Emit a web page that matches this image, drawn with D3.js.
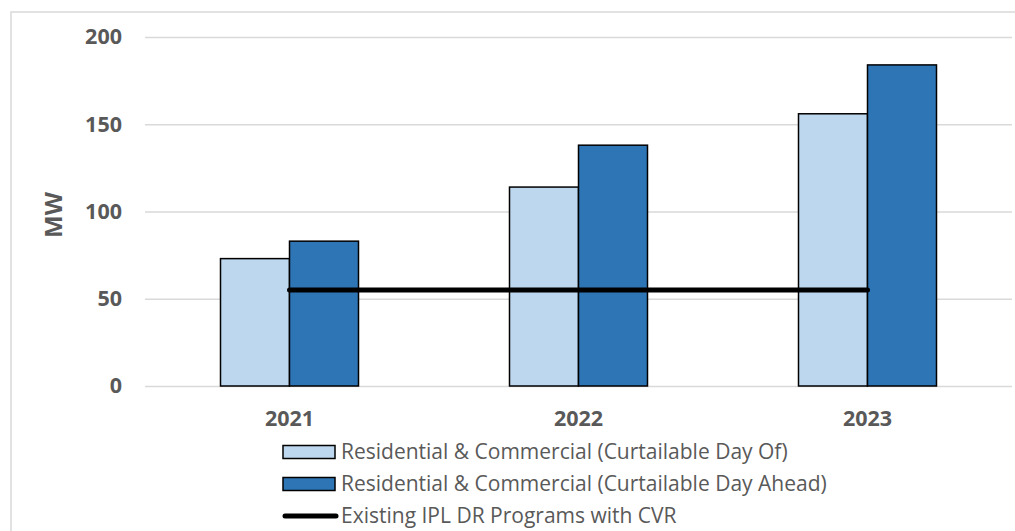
<!DOCTYPE html>
<html><head><meta charset="utf-8">
<script src="https://cdn.jsdelivr.net/npm/d3@7"></script>
<style>body{margin:0;background:#fff}svg{display:block}</style>
</head><body>
<svg id="c" width="1015" height="531"></svg>
<script>
const years = ["2021","2022","2023"];
const dayOf = [73,114,156];
const dayAhead = [83,138,184];
const existing = [55,55,55];
const yTicks = [0,50,100,150,200];
const seriesNames = ["Residential & Commercial (Curtailable Day Of)","Residential & Commercial (Curtailable Day Ahead)","Existing IPL DR Programs with CVR"];
const colors = ["#BDD7EE","#2E75B6"];

const svg = d3.select("#c");
svg.append("rect").attr("x",11).attr("y",12).attr("width",1100).attr("height",600)
  .attr("fill","#fff").attr("stroke","#d9d9d9").attr("stroke-width",1.5);

const x = d3.scaleBand().domain(years).range([145,1012]);
const y = d3.scaleLinear().domain([0,200]).range([386,37]);
const gw = x.bandwidth()*0.4775;
const x1 = d3.scaleBand().domain([0,1]).range([(x.bandwidth()-gw)/2,(x.bandwidth()+gw)/2]);

const grid = svg.append("g").attr("transform","translate(145,0)")
  .call(d3.axisLeft(y).tickValues(yTicks).tickSize(-867).tickPadding(23).tickFormat(d3.format("d")));
grid.select(".domain").remove();
grid.selectAll(".tick line").attr("stroke","#d9d9d9").attr("stroke-width",1.5);
grid.selectAll(".tick text").attr("x",-23).attr("fill","#595959")
  .attr("font-family","'Open Sans',sans-serif").attr("font-weight","bold").attr("font-size",21.5);

const data = years.map((yr,i)=>({yr, vals:[dayOf[i],dayAhead[i]]}));
const g = svg.append("g");
data.forEach(d=>{
  d.vals.forEach((v,j)=>{
    g.append("rect").attr("x",x(d.yr)+x1(j)).attr("width",x1.bandwidth())
      .attr("y",y(v)).attr("height",y(0)-y(v))
      .attr("fill",colors[j]).attr("stroke","#000").attr("stroke-width",1.5);
  });
});

svg.append("path").datum(years.map((yr,i)=>[x(yr)+x.bandwidth()/2,y(existing[i])]))
  .attr("d",d3.line()).attr("fill","none").attr("stroke","#000").attr("stroke-width",5).attr("stroke-linecap","round");

const xa = svg.append("g").attr("transform","translate(0,386)")
  .call(d3.axisBottom(x).tickSize(0).tickPadding(0));
xa.select(".domain").remove();
xa.selectAll(".tick text").attr("y",40).attr("dy",null).attr("fill","#595959")
  .attr("font-family","'Open Sans',sans-serif").attr("font-weight","bold").attr("font-size",21.5);

svg.append("text").attr("transform","translate(62,215) rotate(-90)").attr("text-anchor","middle")
  .attr("fill","#595959").attr("font-family","'Open Sans',sans-serif").attr("font-weight","bold").attr("font-size",24).text("MW");

const leg = svg.append("g");
const ly = [452,484,516];
seriesNames.forEach((n,i)=>{
  if(i<2){
    leg.append("rect").attr("x",283).attr("y",ly[i]-6.5).attr("width",52).attr("height",13)
      .attr("fill",colors[i]).attr("stroke","#000").attr("stroke-width",1.5);
  } else {
    leg.append("line").attr("x1",285).attr("x2",336).attr("y1",ly[i]).attr("y2",ly[i])
      .attr("stroke","#000").attr("stroke-width",5).attr("stroke-linecap","round");
  }
  leg.append("text").attr("x",341).attr("y",ly[i]).attr("dy","0.35em")
    .attr("fill","#595959").attr("font-family","'Open Sans',sans-serif").attr("font-size",21).text(n);
});
</script>
</body></html>
